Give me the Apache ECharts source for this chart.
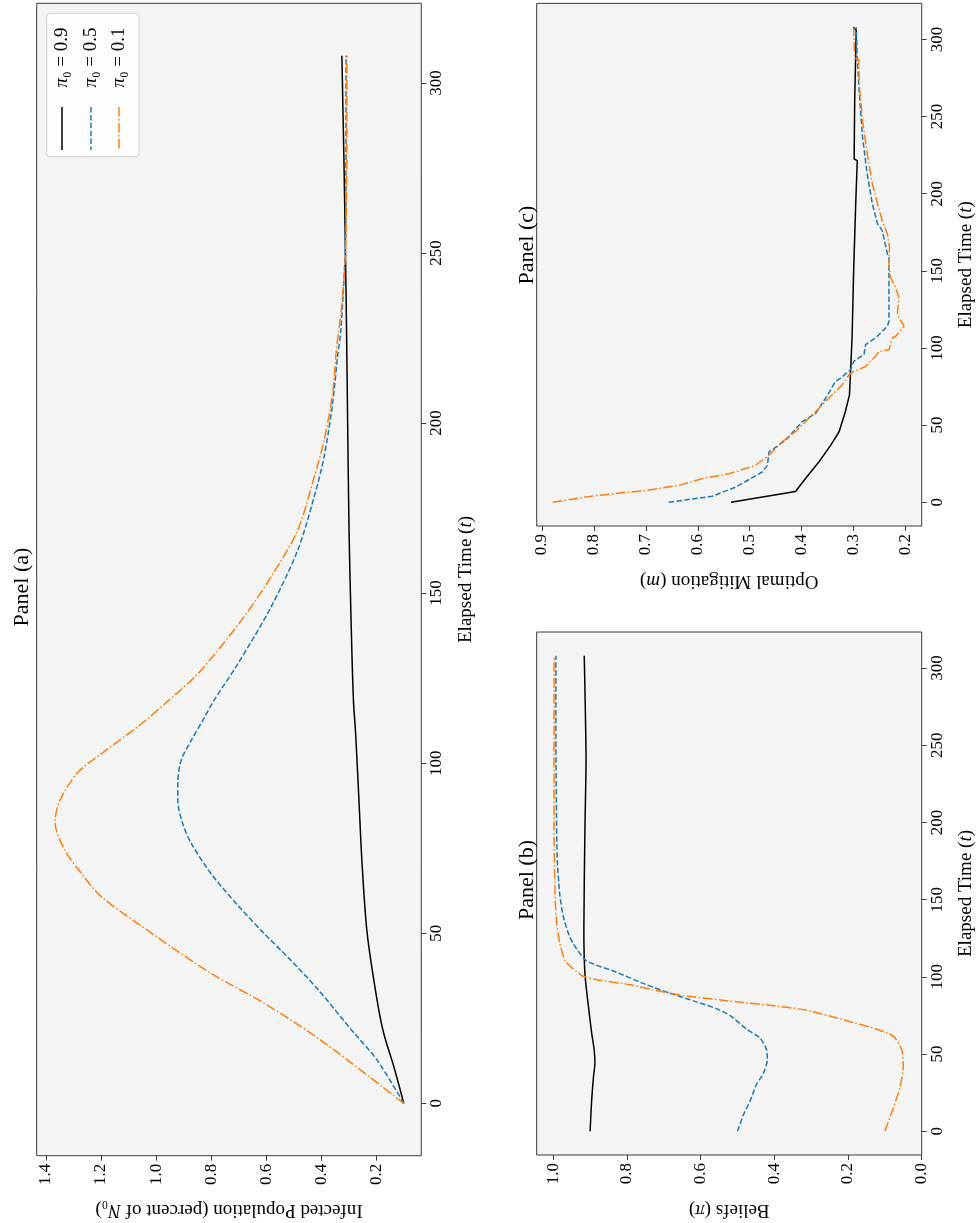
<!DOCTYPE html>
<html>
<head>
<meta charset="utf-8">
<script src="https://cdn.jsdelivr.net/npm/echarts@6.0.0/dist/echarts.min.js"></script>
<style>
  html, body { margin: 0; padding: 0; background: #ffffff; }
  #chart { width: 977px; height: 1223px; }
</style>
</head>
<body>
<div id="chart"></div>
<script>
// ---- tick values ----
const TIME_TICKS = [0, 50, 100, 150, 200, 250, 300];
const INFECTED_TICKS = [0.2, 0.4, 0.6, 0.8, 1.0, 1.2, 1.4];
const BELIEF_TICKS = [0.0, 0.2, 0.4, 0.6, 0.8, 1.0];
const MITIGATION_TICKS = [0.2, 0.3, 0.4, 0.5, 0.6, 0.7, 0.8, 0.9];

// ---- Panel (a): infected population (percent of N0) ----
const tInfected09 = [0, 10.7, 20.6, 30.3, 49.9, 69.5, 89.1, 108.7, 118.4, 140, 168.4, 200, 227, 250, 275, 308];
const infected09  = [0.100, 0.136, 0.173, 0.197, 0.233, 0.251, 0.263, 0.275, 0.283, 0.291, 0.299, 0.304, 0.308, 0.312, 0.317, 0.325];

const tInfected05 = [0, 12.7, 20.6, 33.3, 42.1, 49.9, 58.2, 67.5, 76.4, 82.2, 89.1, 94, 100.8, 106.7, 113.5, 118.4, 129.2, 145.8, 162.5, 178.2, 189.9, 205.6, 219.3, 227.1, 250, 270, 290, 308];
const infected05  = [0.100, 0.197, 0.280, 0.410, 0.511, 0.607, 0.703, 0.800, 0.872, 0.903, 0.921, 0.921, 0.909, 0.872, 0.824, 0.790, 0.703, 0.583, 0.486, 0.426, 0.390, 0.359, 0.341, 0.329, 0.313, 0.310, 0.310, 0.310];

const tInfected01 = [0, 18.6, 29.4, 38.2, 49.4, 60.7, 67.5, 74.4, 82.7, 89.1, 97.4, 102.8, 111.6, 118.4, 126.3, 141.9, 154.7, 168.4, 184, 194.8, 208.5, 222.2, 235, 250, 270, 290, 308];
const infected01  = [0.101, 0.402, 0.607, 0.800, 1.005, 1.198, 1.270, 1.331, 1.367, 1.349, 1.283, 1.198, 1.053, 0.955, 0.848, 0.691, 0.583, 0.486, 0.426, 0.390, 0.359, 0.344, 0.325, 0.312, 0.308, 0.307, 0.307];

// ---- Panel (b): beliefs ----
const tBelief09 = [0, 19.5, 35, 43.9, 52.8, 63.9, 81.6, 101.6, 130.4, 196.9, 241, 285.6, 308];
const belief09  = [0.900, 0.896, 0.891, 0.887, 0.889, 0.896, 0.905, 0.914, 0.917, 0.914, 0.911, 0.914, 0.916];

const tBelief05 = [0, 10.6, 19.5, 30.6, 37.3, 46.1, 52.8, 60.5, 66.1, 74.9, 79.4, 83.8, 89.4, 94.9, 103.8, 110.4, 121.5, 128.2, 139.2, 152.5, 174.7, 196.9, 263.4, 308];
const belief05  = [0.500, 0.484, 0.466, 0.448, 0.430, 0.419, 0.421, 0.439, 0.475, 0.520, 0.557, 0.611, 0.683, 0.747, 0.837, 0.910, 0.946, 0.959, 0.973, 0.982, 0.989, 0.991, 0.993, 0.993];

const tBelief01 = [0, 15.1, 28.4, 41.7, 52.8, 61.6, 66.1, 71.6, 78.3, 81.6, 83.8, 88.2, 91.6, 94.9, 98.2, 100.4, 107.1, 110.4, 121.5, 134.8, 152.5, 196.9, 308];
const belief01  = [0.100, 0.077, 0.059, 0.050, 0.054, 0.077, 0.122, 0.204, 0.312, 0.412, 0.502, 0.656, 0.729, 0.792, 0.882, 0.919, 0.955, 0.968, 0.982, 0.991, 0.995, 0.998, 0.998];

// ---- Panel (c): optimal mitigation ----
const tMitig09 = [0, 7, 15.2, 26.1, 37, 45.7, 58.7, 69.6, 84.8, 106.5, 150, 193.5, 221.5, 222.5, 260, 306, 308];
const mitig09  = [0.536, 0.412, 0.393, 0.367, 0.344, 0.328, 0.316, 0.308, 0.306, 0.303, 0.300, 0.296, 0.293, 0.299, 0.298, 0.295, 0.301];

const tMitig05 = [0, 3.9, 9.8, 19.6, 23.9, 32.6, 40.2, 52.2, 57.6, 67.4, 78.3, 80.4, 85.9, 91.3, 95.7, 102.2, 106.5, 108.7, 114.1, 117.4, 158.7, 160.9, 176.1, 180.4, 193.5, 213, 237, 269.6, 288, 308];
const mitig05  = [0.656, 0.572, 0.527, 0.476, 0.466, 0.463, 0.431, 0.399, 0.373, 0.354, 0.335, 0.325, 0.306, 0.300, 0.280, 0.277, 0.258, 0.251, 0.235, 0.232, 0.232, 0.235, 0.245, 0.254, 0.264, 0.274, 0.283, 0.290, 0.293, 0.295];

const tMitig01 = [0, 4.3, 7.6, 10.9, 15.2, 18.5, 23.9, 30.4, 39.1, 45.7, 56.5, 67.4, 76.1, 82.6, 84.8, 88, 94.6, 97.8, 98.9, 106.5, 107.6, 114.1, 121.7, 132.6, 139.1, 145.7, 154.3, 165.2, 173.9, 182.6, 193.5, 206.5, 226.1, 247.8, 269.6, 287, 288, 308];
const mitig01  = [0.879, 0.797, 0.701, 0.637, 0.592, 0.540, 0.489, 0.463, 0.438, 0.412, 0.380, 0.348, 0.322, 0.309, 0.300, 0.277, 0.258, 0.251, 0.232, 0.226, 0.219, 0.203, 0.216, 0.213, 0.219, 0.229, 0.232, 0.231, 0.235, 0.245, 0.254, 0.264, 0.274, 0.283, 0.289, 0.290, 0.298, 0.300];

// ---- styling ----
const FONT = "'Liberation Serif', 'DejaVu Serif', serif";
const AXIS_COLOR = '#3a3a3a';
const PANEL_BG = '#f4f4f4';
const T_MIN = -15.4, T_MAX = 323.4;
const TICK_FONT = 17, NAME_FONT = 19;

const STYLE09 = { color: '#000000', width: 1.5, type: 'solid' };
const STYLE05 = { color: '#1f77b4', width: 1.5, type: [5.5, 2.4] };
const STYLE01 = { color: '#ff7f0e', width: 1.5, type: [9.6, 2.4, 1.5, 2.4] };

const pairs = (ts, vs) => ts.map((t, i) => [vs[i], t]);

const grids = [
  { left: 36.7, top: 3.3, width: 384.6, height: 1152.4 },   // panel (a)
  { left: 536.7, top: 632, width: 385, height: 523 },       // panel (b)
  { left: 536.7, top: 3.4, width: 385, height: 522.6 }      // panel (c)
].map(g => Object.assign({ show: true, backgroundColor: PANEL_BG, borderColor: AXIS_COLOR, borderWidth: 1, outerBoundsMode: 'none', containLabel: false }, g));

const italic = { fontStyle: 'italic', fontSize: NAME_FONT, fontFamily: FONT };

function timeAxis(gridIndex) {
  return {
    type: 'value', gridIndex, position: 'right', min: T_MIN, max: T_MAX,
    splitLine: { show: false },
    axisLine: { show: false, onZero: false },
    axisTick: { show: true, customValues: TIME_TICKS, length: 5, lineStyle: { color: AXIS_COLOR } },
    axisLabel: { customValues: TIME_TICKS, rotate: 90, margin: 7, fontSize: TICK_FONT, color: '#000', fontFamily: FONT },
    name: 'Elapsed Time ({i|t})', nameLocation: 'middle', nameRotate: 90, nameGap: 35,
    nameTextStyle: { fontSize: NAME_FONT, color: '#000', fontFamily: FONT, rich: { i: italic } }
  };
}

function valueAxis(gridIndex, min, max, ticks, name) {
  return {
    type: 'value', gridIndex, position: 'bottom', inverse: true, min, max,
    splitLine: { show: false },
    axisLine: { show: false, onZero: false },
    axisTick: { show: true, customValues: ticks, length: 5, lineStyle: { color: AXIS_COLOR } },
    axisLabel: { customValues: ticks, rotate: 90, margin: 8, fontSize: TICK_FONT, color: '#000', fontFamily: FONT,
                 formatter: v => v.toFixed(1) },
    name, nameLocation: 'middle', nameRotate: 180, nameGap: 45,
    nameTextStyle: { fontSize: NAME_FONT, color: '#000', fontFamily: FONT, rich: { i: italic } }
  };
}

function line(name, xi, ts, vs, style, smooth) {
  return {
    type: 'line', name, xAxisIndex: xi, yAxisIndex: xi, data: pairs(ts, vs),
    symbol: 'none', showSymbol: false, smooth: smooth || false,
    lineStyle: style, itemStyle: { color: style.color }, z: 3, silent: true
  };
}

// Rotated panel titles and legend drawn as graphic elements
function rotText(x, y, text, size, rich) {
  return {
    type: 'text', x, y, rotation: Math.PI / 2, z: 10,
    style: { text, fontSize: size, fontFamily: FONT, fill: '#000', align: 'center', verticalAlign: 'middle', rich }
  };
}

const legendRich = { i: { fontStyle: 'italic', fontSize: 19, fontFamily: FONT } };
const legendEntries = [
  { label: '{i|π}₀ = 0.9', style: STYLE09, x: 62 },
  { label: '{i|π}₀ = 0.5', style: STYLE05, x: 91 },
  { label: '{i|π}₀ = 0.1', style: STYLE01, x: 119 }
];

const graphic = [
  rotText(22, 587, 'Panel (a)', 22),
  rotText(527, 880, 'Panel (b)', 22),
  rotText(527, 245, 'Panel (c)', 22),
  { type: 'rect', z: 9, shape: { x: 46.7, y: 13.3, width: 92.3, height: 143.4, r: 3 },
    style: { fill: 'rgba(255,255,255,0.8)', stroke: '#d0d0d0', lineWidth: 1 } }
];
legendEntries.forEach(e => {
  graphic.push({ type: 'line', z: 10, shape: { x1: e.x, y1: 107, x2: e.x, y2: 150 },
    style: { stroke: e.style.color, lineWidth: e.style.width, lineDash: Array.isArray(e.style.type) ? e.style.type : null } });
  graphic.push(rotText(e.x, 57.5, e.label, 19, legendRich));
});

const chart = echarts.init(document.getElementById('chart'), null, { renderer: 'canvas', width: 977, height: 1223 });
chart.setOption({
  animation: false,
  backgroundColor: '#ffffff',
  grid: grids,
  xAxis: [
    valueAxis(0, 0.0365, 1.4335, INFECTED_TICKS, 'Infected Population (percent of {i|N}₀)'),
    valueAxis(1, 0, 1.045, BELIEF_TICKS, 'Beliefs ({i|π})'),
    valueAxis(2, 0.169, 0.910, MITIGATION_TICKS, 'Optimal Mitigation ({i|m})')
  ],
  yAxis: [timeAxis(0), timeAxis(1), timeAxis(2)],
  series: [
    line('π0 = 0.9', 0, tInfected09, infected09, STYLE09, 0.3),
    line('π0 = 0.5', 0, tInfected05, infected05, STYLE05, 0.3),
    line('π0 = 0.1', 0, tInfected01, infected01, STYLE01, 0.3),
    line('π0 = 0.9', 1, tBelief09, belief09, STYLE09, 0.2),
    line('π0 = 0.5', 1, tBelief05, belief05, STYLE05, 0.2),
    line('π0 = 0.1', 1, tBelief01, belief01, STYLE01, 0.2),
    line('π0 = 0.9', 2, tMitig09, mitig09, STYLE09),
    line('π0 = 0.5', 2, tMitig05, mitig05, STYLE05),
    line('π0 = 0.1', 2, tMitig01, mitig01, STYLE01)
  ],
  graphic
});
</script>
</body>
</html>
